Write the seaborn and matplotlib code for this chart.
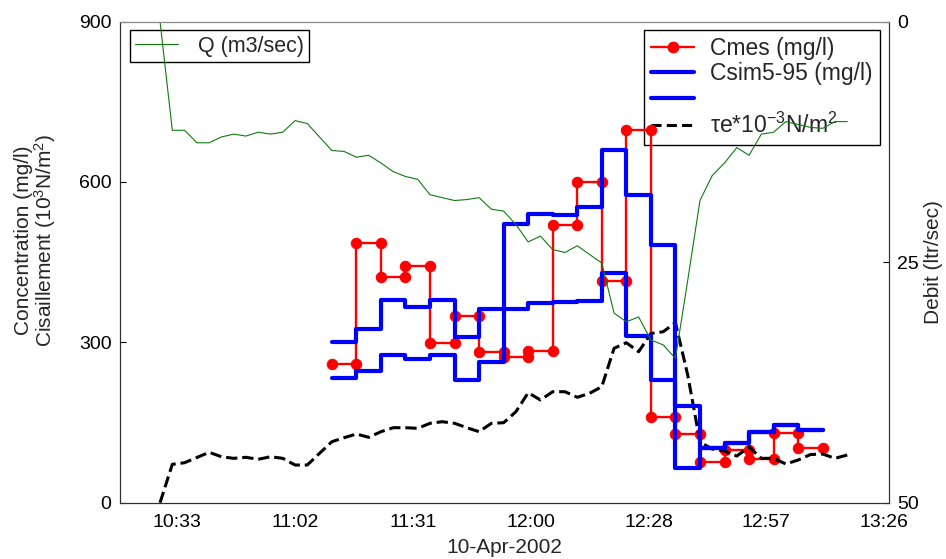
import numpy as np
import pandas as pd
import seaborn as sns
import matplotlib.pyplot as plt
from matplotlib.lines import Line2D

sns.set_style("white")
plt.rcParams['font.family'] = ['Liberation Sans', 'DejaVu Sans']
plt.rcParams['mathtext.fontset'] = 'custom'
plt.rcParams['mathtext.rm'] = 'Liberation Sans'
plt.rcParams['mathtext.it'] = 'Liberation Sans:italic'
plt.rcParams['mathtext.bf'] = 'Liberation Sans:bold'

# flow (right axis) and shear stress (left axis), sampled every 3 min
q_times = ["10:29:24", "10:32:24", "10:35:24", "10:38:24", "10:41:24", "10:44:24",
           "10:47:24", "10:50:24", "10:53:24", "10:56:24", "10:59:24", "11:02:24",
           "11:05:24", "11:08:24", "11:11:24", "11:14:24", "11:17:24", "11:20:24",
           "11:23:24", "11:26:24", "11:29:24", "11:32:24", "11:35:24", "11:38:24",
           "11:41:24", "11:44:24", "11:47:24", "11:50:24", "11:53:24", "11:56:24",
           "11:59:24", "12:02:24", "12:05:24", "12:08:24", "12:11:24", "12:14:24",
           "12:17:24", "12:20:24", "12:23:24", "12:26:24", "12:29:24", "12:32:24",
           "12:35:24", "12:38:24", "12:41:24", "12:44:24", "12:47:24", "12:50:24",
           "12:53:24", "12:56:24", "12:59:24", "13:02:24", "13:05:24", "13:08:24",
           "13:11:24", "13:14:24", "13:17:24"]
q_vals = [0.0, 11.3, 11.3, 12.6, 12.6, 12.0, 11.7, 11.9, 11.5, 11.7,
          11.5, 10.3, 10.6, 12.0, 13.4, 13.5, 14.1, 13.9, 14.7, 15.6,
          16.1, 16.4, 18.0, 18.3, 18.6, 18.5, 18.3, 19.5, 19.7, 21.1,
          22.9, 22.3, 23.7, 24.0, 23.3, 24.2, 25.1, 30.3, 31.2, 30.7,
          33.1, 33.6, 35.0, 26.9, 18.6, 16.0, 14.7, 13.1, 13.9, 11.7,
          11.5, 10.4, 10.7, 11.0, 11.1, 10.4, 10.4]
tau_vals = [0, 71.8, 74.8, 84.5, 94.3, 86.0, 83.0, 84.9, 81.2, 86.0,
            83.0, 70.5, 70.5, 92.4, 114.1, 121.6, 128.5, 122.3, 132.8, 140.3,
            140.3, 139.1, 148.5, 151.5, 148.5, 140.3, 132.8, 148.5, 149.6, 170.2,
            205.7, 192.1, 207.6, 207.6, 197.1, 204.6, 217.0, 288.8, 299.2, 282.4,
            316.5, 319.8, 336.7, 238.8, 113.5, 100.4, 96.7, 87.3, 104.2, 83.0,
            83.0, 72.4, 79.9, 90.1, 91.1, 83.0, 89.2]

# sample intervals (6 min) for measured / simulated concentration
step_edges = ["11:11:24", "11:17:24", "11:23:24", "11:29:24", "11:35:24", "11:41:24",
              "11:47:24", "11:53:24", "11:59:24", "12:05:24", "12:11:24", "12:17:24",
              "12:23:24", "12:29:24", "12:35:24", "12:41:24", "12:47:24", "12:53:24",
              "12:59:24", "13:05:24", "13:11:24"]
cmes = [260, 486, 423, 442, 299, 349, 281, 273, 284, 520,
        600, 415, 697, 160, 129, 76, 99, 81, 130, 102]
csim5 = [301, 324, 380, 366, 380, 310, 362, 362, 374, 375,
         377, 429, 311, 230, 64, 102, 111, 133, 145, 136]
csim95 = [233, 247, 276, 268, 276, 230, 264, 521, 540, 538,
          553, 660, 576, 482, 180, 102, 111, 133, 145, 136]

tick_days = [0.44, 0.46, 0.48, 0.50, 0.52, 0.54, 0.56]
tick_labels = ["10:33", "11:02", "11:31", "12:00", "12:28", "12:57", "13:26"]


def to_min(lst):
    return pd.to_timedelta(lst).total_seconds().values / 60.0


tq = to_min(q_times)
te = to_min(step_edges)

# measured: horizontal segment per sample, markers at both ends
cm_x = np.ravel(np.column_stack([te[:-1], te[1:]]))
cm_y = np.repeat(cmes, 2)
steps = pd.DataFrame({'t': te, 'c5': csim5 + [csim5[-1]], 'c95': csim95 + [csim95[-1]]})

fig = plt.figure(figsize=(9.46, 5.59), dpi=100)
ax = fig.add_axes([0.1268, 0.1007, 0.8129, 0.8608])
ax2 = ax.twinx()

red = '#ff0000'
blue = '#0000ff'
green = '#107a10'

sns.lineplot(x=cm_x, y=cm_y, ax=ax, color=red, lw=1.7, marker='o', markersize=7.5,
             markeredgecolor=red, estimator=None, sort=False, zorder=3)
sns.lineplot(data=steps, x='t', y='c5', ax=ax, color=blue, lw=3, drawstyle='steps-post',
             estimator=None, sort=False, zorder=4)
sns.lineplot(data=steps, x='t', y='c95', ax=ax, color=blue, lw=3, drawstyle='steps-post',
             estimator=None, sort=False, zorder=4)
sns.lineplot(x=tq, y=tau_vals, ax=ax, color='black', lw=2.2, linestyle='--',
             dashes=(3.3, 1.7), estimator=None, sort=False, zorder=3)
sns.lineplot(x=tq, y=q_vals, ax=ax2, color=green, lw=0.8, estimator=None, sort=False)

ax.set_xlim(619.6, 807.6)
ax.set_ylim(0, 900)
ax2.set_ylim(50, 0)
ax.set_xticks(np.array(tick_days) * 1440)
ax.set_xticklabels(tick_labels)
ax.set_yticks([0, 300, 600, 900])
ax2.set_yticks([0, 25, 50])

for a in (ax, ax2):
    a.tick_params(direction='in', length=4, width=0.8, labelsize=14, colors='black', pad=6)
    for s in a.spines.values():
        s.set_color('#303030')
        s.set_linewidth(0.8)
    a.spines['top'].set_color('#888888')
ax.tick_params(axis='y', right=False)
ax.tick_params(axis='x', pad=8)

ax.set_xlabel('10-Apr-2002', fontsize=15, labelpad=5)
ax.set_ylabel('Concentration (mg/l)\nCisaillement (10$^3$N/m$^2$)', fontsize=15,
              linespacing=1.0)
ax.yaxis.set_label_coords(-0.08, 0.545)
ax2.set_ylabel('Debit (ltr/sec)', fontsize=15, rotation=90)
ax2.yaxis.set_label_coords(1.046, 0.5)

# legends
q_handle = [Line2D([], [], color=green, lw=0.8)]
leg1 = ax.legend(q_handle, ['Q (m3/sec)'], loc='upper left', bbox_to_anchor=(0.013, 0.982),
                 borderaxespad=0, fontsize=15.5, frameon=True, fancybox=False,
                 edgecolor='black', framealpha=1, handlelength=2.0, borderpad=0.25,
                 handletextpad=0.9)
leg1.get_frame().set_linewidth(1.0)
leg1.set_zorder(1)
ax.add_artist(leg1)

handles = [Line2D([], [], color=red, lw=1.7, marker='o', markersize=7.5),
           Line2D([], [], color=blue, lw=3),
           Line2D([], [], color=blue, lw=3),
           Line2D([], [], color='black', lw=2.2, linestyle='--', dashes=(3.3, 1.7))]
labels = ['Cmes (mg/l)', 'Csim5-95 (mg/l)', '', 'τe*10$^{-3}$N/m$^2$']
leg2 = ax.legend(handles, labels, loc='upper right', bbox_to_anchor=(0.988, 0.982),
                 borderaxespad=0, fontsize=16.5, frameon=True, fancybox=False,
                 edgecolor='black', framealpha=1, handlelength=1.9, labelspacing=0.1,
                 borderpad=0.3, handletextpad=0.7)
leg2.get_frame().set_linewidth(1.0)
leg2.set_zorder(1)

fig.savefig('out.png', dpi=100)
